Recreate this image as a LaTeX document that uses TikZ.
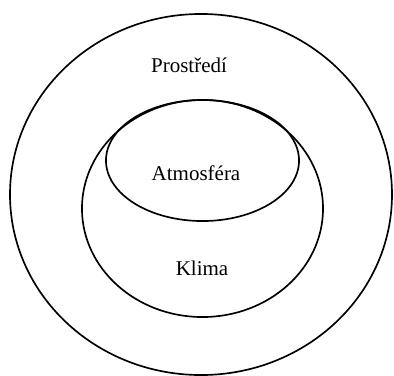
\documentclass[tikz,border=0pt]{standalone}
\usepackage{fontspec}
\setmainfont{Liberation Serif}
\usepackage{tikz}
\usetikzlibrary{shapes.geometric}

\begin{document}
\begin{tikzpicture}[x=0.75pt,y=-0.75pt,
  ring/.style={draw,ellipse,line width=1.25pt,inner sep=0pt},
  lbl/.style={font=\fontsize{15.75}{19}\selectfont}]
  \useasboundingbox (0,0) rectangle (394,376);
  \node[ring,minimum width=286.5pt,minimum height=270.8pt] (prostredi) at (201,194.5) {};
  \node[ring,minimum width=180.8pt,minimum height=162.8pt] (klima) at (202.5,208.5) {};
  \node[ring,minimum width=144.8pt,minimum height=90.8pt] (atmosfera) at (202.5,160.5) {};
  \node[lbl] (tprostredi) at (189,65) {Prostředí};
  \node[lbl] (tatmosfera) at (196,173) {Atmosféra};
  \node[lbl] (tklima) at (202,268) {Klima};
\end{tikzpicture}
\end{document}
